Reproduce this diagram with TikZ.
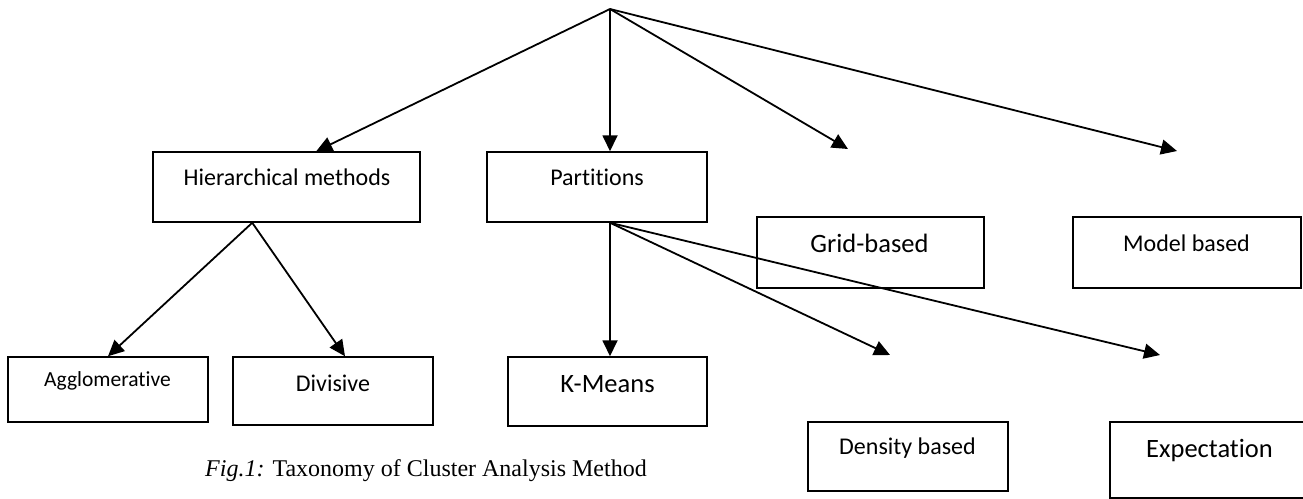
\documentclass[tikz,border=0pt]{standalone}
\usepackage{fontspec}
\setmainfont[Ligatures=CommonOff]{Carlito}
\newfontfamily\capfont{Liberation Serif}
\usetikzlibrary{arrows.meta,calc}
\begin{document}
\begin{tikzpicture}[x=1pt,y=-1pt,
  box/.style={draw=black,line width=1.5pt,rectangle,inner sep=0pt},
  sml/.style={inner sep=0pt,font=\fontsize{21.5}{25}\selectfont},
  lbl/.style={inner sep=0pt,font=\fontsize{24}{28}\selectfont},
  big/.style={inner sep=0pt,font=\fontsize{26.5}{31}\selectfont},
  arr/.style={line width=1.8pt,-{Triangle[length=16pt,width=15pt]}}]
\useasboundingbox (0,0) rectangle (1303,498);
% boxes
\node[box,minimum width=267pt,minimum height=70pt] (h) at (286.5,187) {};
\node[lbl] (ht) at (287,177) {Hierarchical methods};
\node[box,minimum width=220pt,minimum height=70pt] (p) at (597,187) {};
\node[lbl] (pt) at (597,177) {Partitions};
\node[box,minimum width=227pt,minimum height=71pt] (g) at (870.5,252.5) {};
\node[big] (gt) at (869.5,243) {Grid-based};
\node[box,minimum width=228pt,minimum height=71pt] (m) at (1187,252.5) {};
\node[lbl] (mt) at (1186.5,243) {Model based};
\node[box,minimum width=200pt,minimum height=65pt] (a) at (108,389.5) {};
\node[sml] (at) at (107.5,381) {Agglomerative};
\node[box,minimum width=200pt,minimum height=68pt] (d) at (333,391) {};
\node[lbl] (dt) at (333,383) {Divisive};
\node[box,minimum width=199pt,minimum height=69pt] (k) at (607.5,391.5) {};
\node[big] (kt) at (607.5,384) {K-Means};
\node[box,minimum width=200pt,minimum height=69pt] (ds) at (908,456.5) {};
\node[lbl] (dst) at (907.5,448) {Density based};
\node[box,minimum width=210pt,minimum height=76pt] (e) at (1215,460) {};
\node[big] (et) at (1209.5,451) {Expectation};
% caption
\node[inner sep=0pt,anchor=west,font=\capfont\fontsize{24}{28}\selectfont] (cap) at (205,471) {\textit{Fig.1:} Taxonomy of Cluster Analysis Method};
% free ends
\coordinate (top) at (610,9);
\coordinate (gend) at (848,149);
\coordinate (mend) at (1177,151);
\coordinate (dsend) at (890,355);
\coordinate (eend) at (1160,355);
% connectors
\draw[arr] (top) -- ($(h.north west)+(164,0)$);
\draw[arr] (top) -- ($(p.north)+(13,0)$);
\draw[arr] (top) -- (gend);
\draw[arr] (top) -- (mend);
\draw[arr] ($(h.south west)+(100,0)$) -- (a.north);
\draw[arr] ($(h.south west)+(100,0)$) -- ($(d.north)+(12,0)$);
\draw[arr] ($(p.south)+(13,0)$) -- ($(k.north)+(2.5,0)$);
\draw[arr] ($(p.south)+(13,0)$) -- (dsend);
\draw[arr] ($(p.south)+(13,0)$) -- (eend);
\end{tikzpicture}
\end{document}
